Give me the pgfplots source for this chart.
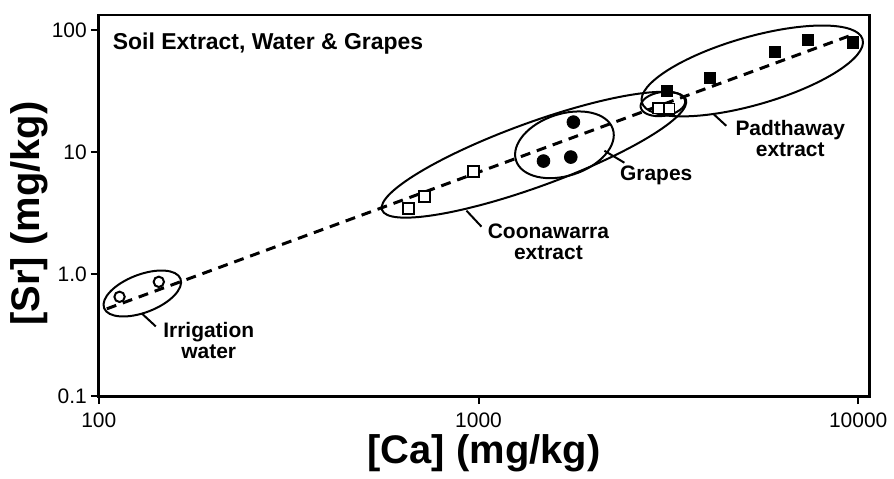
\documentclass[border=0pt]{standalone}
\usepackage{fontspec}
\setmainfont{Liberation Sans}
\usepackage{pgfplots}
\pgfplotsset{compat=1.18}
\begin{document}
\begin{tikzpicture}
\begin{axis}[
  scale only axis,
  width=386pt, height=191pt,
  xmode=log, ymode=log,
  xmin=100, xmax=10690,
  ymin=0.1, ymax=132.8,
  xtick={100,1000,10000}, xticklabels={100,1000,10000},
  ytick={0.1,1,10,100}, yticklabels={0.1,1.0,10,100},
  xminorticks=false, yminorticks=false,
  xtick pos=bottom, ytick pos=left,
  tick align=outside,
  major tick length=4pt,
  axis line style={line width=1.4pt},
  every tick/.style={line width=1pt, black},
  tick label style={font=\fontsize{10.5}{12}\selectfont},
  xticklabel style={yshift=-1pt},
  yticklabel style={xshift=1.5pt},
  xlabel={[Ca] (mg/kg)},
  ylabel={[Sr] (mg/kg)},
  xlabel style={font=\fontsize{20}{22}\selectfont\bfseries, at={([yshift=-28.5pt]axis description cs:0.5,0)}, anchor=center},
  ylabel style={font=\fontsize{20}{22}\selectfont\bfseries, at={([xshift=-35pt,yshift=-4pt]axis description cs:0,0.5)}, anchor=center},
  clip=false,
]
% regression line
\addplot[black, line width=1.5pt, dash pattern=on 5pt off 3.5pt] coordinates {(105,0.52) (9800,93)};

% ellipses
\draw[line width=1pt, rotate around={21:(axis cs:130.2,0.694)}] (axis cs:130.2,0.694) ellipse [x radius=20.5pt, y radius=9.5pt];
\draw[line width=1pt, rotate around={20:(axis cs:1400,9.51)}] (axis cs:1400,9.51) ellipse [x radius=81pt, y radius=16pt];
\draw[line width=1pt, rotate around={18:(axis cs:1684,11.47)}] (axis cs:1684,11.47) ellipse [x radius=25.5pt, y radius=15.5pt];
\draw[line width=1pt, rotate around={8:(axis cs:3059,24.8)}] (axis cs:3059,24.8) ellipse [x radius=11.25pt, y radius=6pt];
\draw[line width=1pt, rotate around={16:(axis cs:5260,46.2)}] (axis cs:5260,46.2) ellipse [x radius=57.5pt, y radius=17pt];

% leader lines
\draw[line width=1pt] (axis cs:129.8,0.476) -- (axis cs:141.3,0.373);
\draw[line width=1pt] (axis cs:929.9,3.31) -- (axis cs:1018,2.45);
\draw[line width=1pt] (axis cs:2146,10.25) -- (axis cs:2422,8.18);
\draw[line width=1pt] (axis cs:4150,20.6) -- (axis cs:4494,16.4);

% data: irrigation water (open circles)
\addplot[only marks, mark=*, mark size=2.6pt, mark options={fill=white, draw=black, line width=1pt}] coordinates {(113.4,0.652) (143.9,0.865)};
% Coonawarra extract (open squares)
\addplot[only marks, mark=square*, mark size=2.7pt, mark options={fill=white, draw=black, line width=0.9pt}] coordinates {(655,3.44) (721,4.33) (970,6.94) (2978,22.9) (3178,22.6)};
% Grapes (filled circles)
\addplot[only marks, mark=*, mark size=3.2pt, mark options={fill=black, draw=black}] coordinates {(1778,17.6) (1483,8.44) (1750,9.1)};
% Padthaway extract (filled squares)
\addplot[only marks, mark=square*, mark size=2.8pt, mark options={fill=black, draw=black}] coordinates {(3131,31.9) (4073,40.3) (6040,66.6) (7380,83.3) (9700,79.3)};

% labels
\node[font=\fontsize{10.5}{10.5}\selectfont\bfseries, align=center] at (axis cs:194.8,0.286) {Irrigation\\water};
\node[font=\fontsize{10.5}{10.5}\selectfont\bfseries, align=center] at (axis cs:1528,1.847) {Coonawarra\\extract};
\node[font=\fontsize{10.5}{10.5}\selectfont\bfseries, align=center] at (axis cs:2938,6.40) {Grapes};
\node[font=\fontsize{10.5}{10.5}\selectfont\bfseries, align=center] at (axis cs:6623,12.85) {Padthaway\\extract};
\node[font=\fontsize{11.5}{13}\selectfont\bfseries, anchor=north west] at ([xshift=3.5pt, yshift=-5.5pt]rel axis cs:0,1) {Soil Extract, Water \& Grapes};
\end{axis}
\path (current axis.south west) ++(-49.5pt,-39.5pt) coordinate (bbA);
\path (current axis.north east) ++(11.5pt,7.5pt) coordinate (bbB);
\path (bbA) rectangle (bbB);
\end{tikzpicture}
\end{document}
